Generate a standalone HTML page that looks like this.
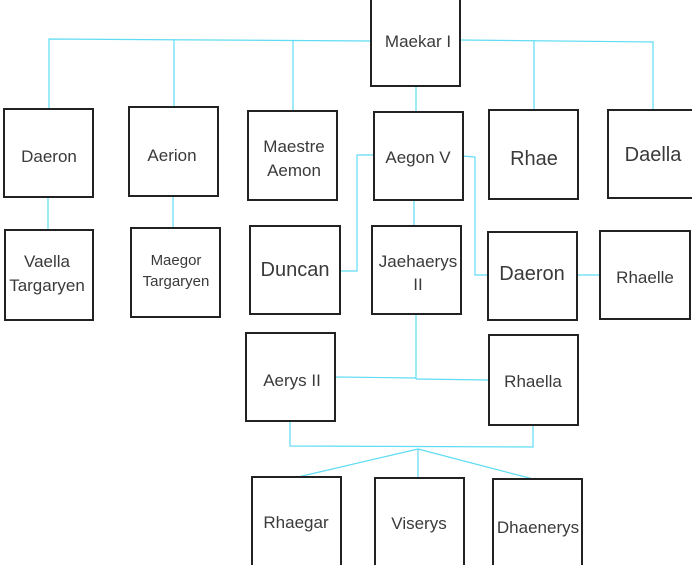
<!DOCTYPE html>
<html><head><meta charset="utf-8"><style>
html,body{margin:0;padding:0;background:#fff;width:692px;height:565px;overflow:hidden}
svg text{font-family:"Liberation Sans",sans-serif;fill:#3a3a3a;text-anchor:middle}
</style></head><body>
<svg width="692" height="565" viewBox="0 0 692 565" xmlns="http://www.w3.org/2000/svg">
<g fill="none" stroke="#5fdcf2" stroke-width="1.2">
<polyline points="49,109 49,39 371,41"/>
<line x1="174" y1="40" x2="174" y2="107"/>
<line x1="293" y1="41" x2="293" y2="111"/>
<polyline points="460,40 653,42 653,110"/>
<line x1="534" y1="41" x2="534" y2="110"/>
<line x1="416" y1="86" x2="416" y2="112"/>
<line x1="48" y1="197" x2="48" y2="230"/>
<line x1="173" y1="196" x2="173" y2="228"/>
<polyline points="374,155 357,155 357,271 340,271"/>
<polyline points="463,156 475,157 475,275 488,275"/>
<line x1="414" y1="200" x2="414" y2="226"/>
<line x1="577" y1="275" x2="600" y2="275"/>
<line x1="416" y1="314" x2="416" y2="379"/>
<line x1="335" y1="377" x2="416" y2="378"/>
<line x1="416" y1="379" x2="489" y2="380"/>
<polyline points="290,421 290,446 533,447 533,425"/>
<line x1="418" y1="449" x2="298" y2="477"/>
<line x1="418" y1="449" x2="418" y2="478"/>
<line x1="418" y1="449" x2="537" y2="480"/>
</g>
<g fill="#fff" stroke="#222" stroke-width="2">
<rect x="371" y="-2" width="89" height="88"/>
<rect x="4" y="109" width="89" height="88"/>
<rect x="129" y="107" width="89" height="89"/>
<rect x="248" y="111" width="89" height="89"/>
<rect x="374" y="112" width="89" height="88"/>
<rect x="489" y="110" width="89" height="89"/>
<rect x="608" y="110" width="86" height="88"/>
<rect x="5" y="230" width="88" height="90"/>
<rect x="131" y="228" width="89" height="89"/>
<rect x="250" y="226" width="90" height="88"/>
<rect x="372" y="226" width="89" height="88"/>
<rect x="488" y="232" width="89" height="88"/>
<rect x="600" y="231" width="90" height="88"/>
<rect x="246" y="333" width="89" height="88"/>
<rect x="489" y="335" width="89" height="90"/>
<rect x="252" y="477" width="89" height="92"/>
<rect x="375" y="478" width="89" height="92"/>
<rect x="493" y="479" width="89" height="92"/>
</g>
<g font-size="17">
<text x="418" y="47">Maekar I</text>
<text x="49" y="162">Daeron</text>
<text x="172" y="161">Aerion</text>
<text x="294" y="152">Maestre</text>
<text x="294" y="176">Aemon</text>
<text x="418" y="163">Aegon V</text>
<text x="534" y="165" font-size="20">Rhae</text>
<text x="653" y="161" font-size="20">Daella</text>
<text x="47" y="267">Vaella</text>
<text x="47" y="291">Targaryen</text>
<text x="176" y="265" font-size="15">Maegor</text>
<text x="176" y="286" font-size="15">Targaryen</text>
<text x="295" y="276" font-size="20">Duncan</text>
<text x="418" y="267">Jaehaerys</text>
<text x="418" y="290">II</text>
<text x="532" y="280" font-size="20">Daeron</text>
<text x="645" y="283">Rhaelle</text>
<text x="292" y="386">Aerys II</text>
<text x="533" y="387">Rhaella</text>
<text x="296" y="528">Rhaegar</text>
<text x="419" y="529">Viserys</text>
<text x="538" y="533">Dhaenerys</text>
</g>
</svg>
</body></html>
